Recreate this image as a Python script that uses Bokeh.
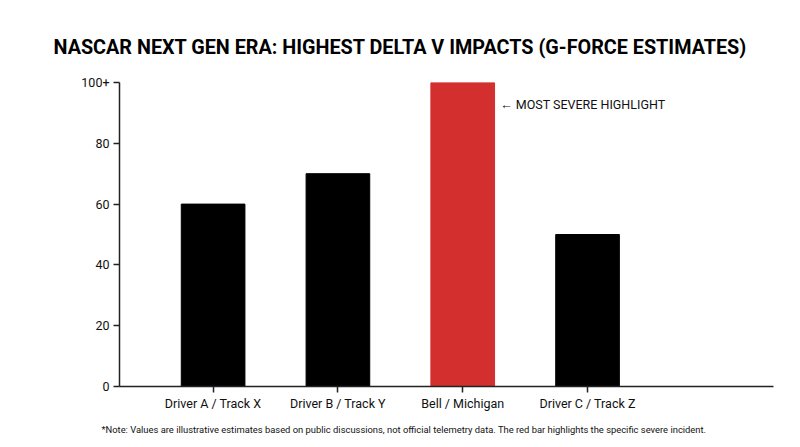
from bokeh.plotting import figure
from bokeh.models import FixedTicker, Range1d, Title, Label, ColumnDataSource
from bokeh.embed import file_html
from bokeh.resources import INLINE

categories = ["Driver A / Track X", "Driver B / Track Y", "Bell / Michigan", "Driver C / Track Z"]
values = [60, 70, 100, 50]
colors = ["#000000", "#000000", "#D32F2F", "#000000"]
y_ticks = [0, 20, 40, 60, 80, 100]
y_tick_labels = ["0", "20", "40", "60", "80", "100+"]
title_text = "NASCAR NEXT GEN ERA: HIGHEST DELTA V IMPACTS (G-FORCE ESTIMATES)"
note_text = "*Note: Values are illustrative estimates based on public discussions, not official telemetry data. The red bar highlights the specific severe incident."
annot_text = "\u2190 MOST SEVERE HIGHLIGHT"

xs = list(range(len(categories)))
src = ColumnDataSource(dict(x=xs, top=values, color=colors))

p = figure(width=800, height=447, output_backend="svg", toolbar_location=None,
           x_range=Range1d(-0.75, 4.49), y_range=Range1d(0, 100),
           min_border_left=119, min_border_right=27, min_border_top=82, min_border_bottom=61)
p.outline_line_color = None
p.xgrid.visible = False
p.ygrid.visible = False
p.background_fill_color = "white"
p.border_fill_color = "white"

p.vbar(x="x", top="top", width=0.51, color="color", source=src)

FONT = "Roboto"
for ax in (p.xaxis[0], p.yaxis[0]):
    ax.axis_line_color = "#222222"
    ax.axis_line_width = 1.5
    ax.major_tick_line_color = "#222222"
    ax.major_tick_line_width = 1.5
    ax.major_tick_out = 6
    ax.major_tick_in = 0
    ax.minor_tick_line_color = None
    ax.major_label_text_font = FONT
    ax.major_label_text_font_size = "12.5px"
    ax.major_label_text_color = "#111111"

p.xaxis.ticker = FixedTicker(ticks=xs)
p.xaxis.major_label_overrides = {i: c for i, c in zip(xs, categories)}
p.xaxis.major_label_standoff = 3
p.yaxis.ticker = FixedTicker(ticks=y_ticks)
p.yaxis.major_label_overrides = {t: l for t, l in zip(y_ticks, y_tick_labels)}
p.yaxis.major_label_standoff = 4

p.add_layout(Label(x=2.3, y=92.8, text=annot_text, text_font=FONT, text_font_size="12.5px",
                   text_color="#111111", text_baseline="middle", text_align="left"))

note = Title(text=note_text, align="left", text_font=FONT, text_font_size="9.4px",
             text_font_style="normal", text_color="#111111", offset=-18, standoff=17)
p.add_layout(note, "below")

title = Title(text=title_text, align="left", text_font=FONT,
              text_font_size="19.8px", text_font_style="bold", text_color="#000000",
              offset=-66, standoff=48)
p.add_layout(title, "above")

open("out.html", "w").write(file_html(p, INLINE))
